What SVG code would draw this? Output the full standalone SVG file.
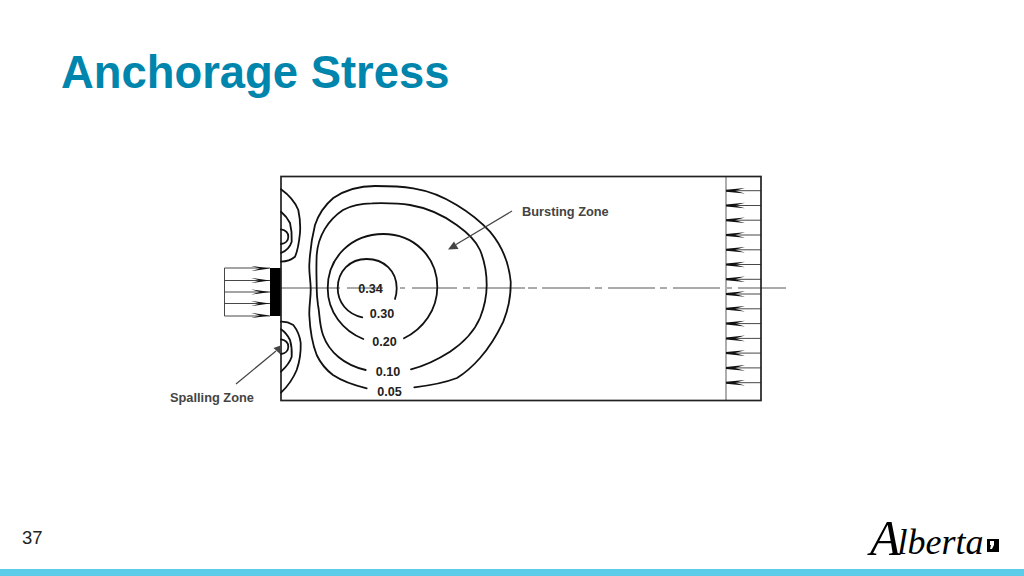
<svg xmlns="http://www.w3.org/2000/svg" width="1024" height="576" viewBox="0 0 1024 576">
<style>
.c{fill:none;stroke:#111;stroke-width:1.8;stroke-linecap:round;stroke-linejoin:round}
.t{fill:none;stroke:#333;stroke-width:.9}
.g{fill:none;stroke:#777;stroke-width:1.2}
.l{font-family:"Liberation Sans",Arial,sans-serif;font-weight:700;font-size:12.6px;fill:#222}
.z{font-family:"Liberation Sans",Arial,sans-serif;font-weight:700;font-size:12.8px;fill:#444}
</style>
<defs>
<path id="hr" d="M-19-2.600L0 0L-19 2.600L-10 0Z" fill="#111"/>
<path id="hl" d="M19-2.800L0-1L0 1L19 2.800L9 0Z" fill="#111"/>
</defs>
<rect width="1024" height="576" fill="#fff"/>
<text id="title" x="61" y="88" font-family="'Liberation Sans',Arial,sans-serif" font-weight="700" font-size="45.400" fill="#0085ad">Anchorage Stress</text>

<g id="centerline" stroke="#444" stroke-width=".9" fill="none">
<path d="M281 288H335M335 288H340M347 288H383M400 288H405M412 288H457M463 288H470M477 288H525M528 288H537M542 288H590M595 288H602M608 288H655M660 288H667M673 288H720M727 288H732M738 288H786"/>
</g>

<g id="load-left">
<path class="t" d="M224.500 268H270M224.500 280.500H270M224.500 292H270M224.500 303.500H270M224.500 316H270M224.500 268V316"/>
<use href="#hr" x="270" y="268.500"/><use href="#hr" x="270" y="280.500"/><use href="#hr" x="270" y="292"/><use href="#hr" x="270" y="303.500"/><use href="#hr" x="270" y="315.500"/>
<rect x="270" y="268" width="11" height="48" fill="#000"/>
</g>

<g id="load-right">
<path class="g" d="M726 176.500V400.500"/>
<path class="t" d="M726 190.700H761M726 205.500H761M726 220.200H761M726 235H761M726 249.800H761M726 264.500H761M726 279.300H761M726 294H761M726 308.800H761M726 323.600H761M726 338.400H761M726 353.100H761M726 367.900H761M726 382.700H761"/>
<use href="#hl" x="726" y="190.700"/><use href="#hl" x="726" y="205.500"/><use href="#hl" x="726" y="220.200"/><use href="#hl" x="726" y="235"/><use href="#hl" x="726" y="249.800"/><use href="#hl" x="726" y="264.500"/><use href="#hl" x="726" y="279.300"/><use href="#hl" x="726" y="294"/><use href="#hl" x="726" y="308.800"/><use href="#hl" x="726" y="323.600"/><use href="#hl" x="726" y="338.400"/><use href="#hl" x="726" y="353.100"/><use href="#hl" x="726" y="367.900"/><use href="#hl" x="726" y="382.700"/>
</g>

<rect id="member" x="281" y="176.500" width="480" height="224" fill="none" stroke="#222" stroke-width="1.700"/>

<g id="contours">
<path class="c" d="M362.300 317.300C347 314 337.700 302 337.700 288.300C337.700 271 350 259 366.700 259C384 259 396.700 271 396.700 288.300C396.700 292 396 296 395 299"/>
<path class="c" d="M363.300 339C343 331 327.700 312 327.700 288.300C327.700 257 352 234 383.300 234C414 234 437.300 257 437.300 287C437.300 310 423 329 404 338.300"/>
<path class="c" d="M365.700 370C344 365 329 352 323 335C319 323 320 315 318 305C317 298 316.700 293 316.700 288C316.700 280 316 270 316.700 255C318 236 328 220 343 210C352 205 361 203.300 372 203.300C385 203 398 203 410 205C428 208 443 215 456.700 225C468 233 476 241 480 250C485 262 486.700 273 486.700 285C486.700 298 484 308 480 318C474 332 463 343 450 351.700C437 360 424 366 411 369.300"/>
<path class="c" d="M366.700 388.300C353 385 342 381 333 375C325 369 320 362 316.700 355C312 343 310 330 309.300 315C309 305 311 297 310.700 288C310.500 280 309 273 309.300 265C310 250 312 237 315 225C319 213 325 205 333.300 198C345 190 358 186 375 186C390 186 402 186.500 413.300 188.300C430 191 444 197 456.700 205C470 213 481 222 490 231.700C502 246 509 263 510.700 281.700C511 296 508 310 503.300 321.700C497 335 489 348 480 358C473 366 465 373 457 378C444 383 430 385.500 414.300 387.300"/>
</g>

<g id="spalling-contours">
<path class="c" d="M281 189.300C289 195 295 202 298.300 210C300 218 300.500 226 300 233C299 243 298 250 295 256.700C291 260 286 261.500 281 261.700"/>
<path class="c" d="M281 211.700C285 215 288 219 290 223C291.500 229 292 236 291.700 241.700C290 247 286 251 281 253"/>
<path class="c" d="M281 229.300C285.500 230 288.300 233 288.300 236.700C288.300 240.500 285.500 243.500 281 244"/>
<path class="c" d="M281 321.700C286 321.500 290 323 293.300 325C298 331 300 337 300.700 343C301 353 299.500 362 296.700 370C293 379 288 386 281 392.700"/>
<path class="c" d="M281 329.300C285 332 288 336 290 340C291.500 345 292 351 291.700 356.700C290 362 286 367 281 371.700"/>
<path class="c" d="M281 339.300C285.500 340 288.300 343 288.300 346.700C288.300 350.500 285.500 353.500 281 354"/>
</g>

<g id="leaders">
<path d="M512 211L456 244.500" fill="none" stroke="#444" stroke-width="1.200"/>
<path d="M448 249.500L454 241.500L458.500 249Z" fill="#444"/>
<path d="M236 384L276 351" fill="none" stroke="#444" stroke-width="1.200"/>
<path d="M282 345L280 354L273.500 348Z" fill="#444"/>
</g>

<g id="labels">
<text class="l" x="370.500" y="292.500" text-anchor="middle">0.34</text>
<text class="l" x="382" y="318" text-anchor="middle">0.30</text>
<text class="l" x="384.500" y="346" text-anchor="middle">0.20</text>
<text class="l" x="388" y="375.500" text-anchor="middle">0.10</text>
<text class="l" x="389.500" y="396" text-anchor="middle">0.05</text>
<text class="z" x="522" y="216">Bursting Zone</text>
<text class="z" x="170" y="402">Spalling Zone</text>
</g>

<text id="page" x="22" y="544" font-family="'Liberation Sans',Arial,sans-serif" font-size="18.500" fill="#222">37</text>

<g id="logo">
<text x="870" y="555" font-family="'Liberation Serif',serif" font-style="italic" fill="#000"><tspan font-size="50">A</tspan><tspan font-size="36" dx="-3" dy="-1">lberta</tspan></text>
<rect x="987" y="539" width="12" height="13" fill="#000"/>
<path d="M990 541h4v4l-2 4h-2l1-4h-1Z" fill="#fff"/>
</g>

<rect id="footer-bar" x="0" y="569" width="1024" height="7" fill="#5ccce9"/>
</svg>
